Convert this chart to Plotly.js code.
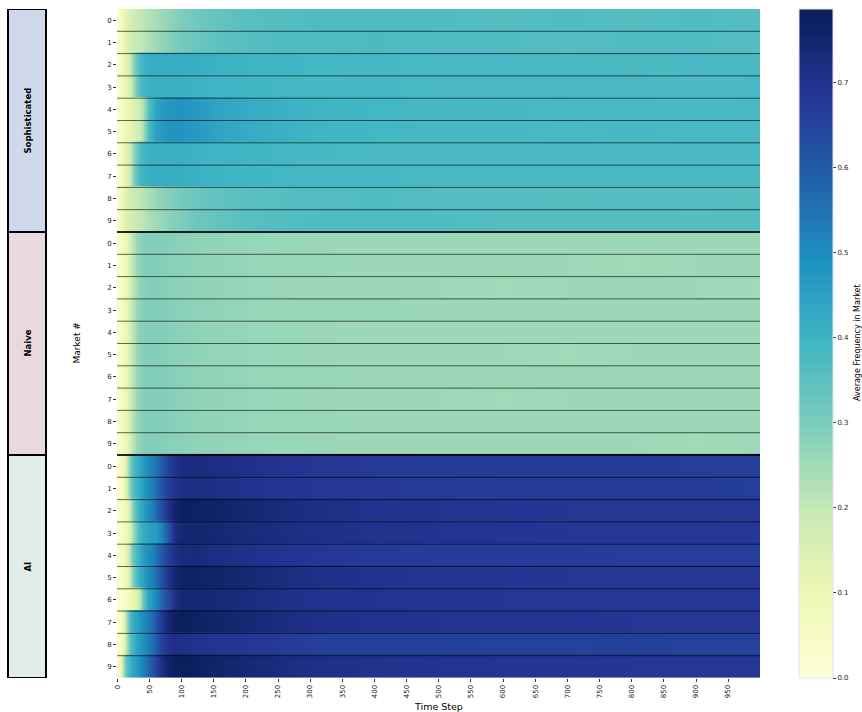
<!DOCTYPE html>
<html>
<head>
<meta charset="utf-8">
<script src="https://cdn.plot.ly/plotly-3.0.1.min.js"></script>
<style>html,body{margin:0;padding:0;background:#fff;}#chart{width:862px;height:712px;}</style>
</head>
<body>
<div id="chart"></div>
<script>
// ---- Data ----
const timeSteps = [0,5,10,15,20,25,30,35,40,45,50,55,60,70,80,90,100,120,140,160,200,250,300,400,500,600,700,800,900,999];
const groups = ["Sophisticated", "Naive", "AI"];
const marketLabels = ["0","1","2","3","4","5","6","7","8","9"];
const xTickValues = [0,50,100,150,200,250,300,350,400,450,500,550,600,650,700,750,800,850,900,950];
const colorbarTicks = [0.0,0.1,0.2,0.3,0.4,0.5,0.6,0.7];

const sophisticated = [
  [0.02,0.07,0.11,0.14,0.16,0.18,0.19,0.20,0.21,0.22,0.225,0.23,0.24,0.255,0.27,0.285,0.295,0.315,0.33,0.34,0.355,0.365,0.37,0.37,0.37,0.365,0.37,0.365,0.37,0.365],
  [0.02,0.07,0.11,0.14,0.165,0.185,0.195,0.205,0.215,0.225,0.235,0.245,0.255,0.27,0.285,0.30,0.31,0.325,0.34,0.35,0.36,0.37,0.37,0.375,0.37,0.37,0.365,0.37,0.37,0.365],
  [0.02,0.06,0.10,0.14,0.19,0.27,0.34,0.38,0.40,0.41,0.415,0.42,0.42,0.42,0.42,0.42,0.42,0.415,0.41,0.405,0.40,0.395,0.39,0.385,0.38,0.38,0.38,0.375,0.38,0.38],
  [0.02,0.06,0.10,0.13,0.17,0.24,0.32,0.37,0.39,0.40,0.41,0.41,0.41,0.41,0.41,0.41,0.41,0.405,0.40,0.40,0.395,0.39,0.385,0.385,0.38,0.38,0.38,0.38,0.375,0.38],
  [0.02,0.05,0.08,0.10,0.12,0.14,0.16,0.19,0.23,0.30,0.37,0.41,0.44,0.465,0.475,0.48,0.48,0.47,0.455,0.44,0.425,0.41,0.40,0.39,0.385,0.385,0.38,0.38,0.38,0.38],
  [0.02,0.05,0.08,0.10,0.12,0.14,0.16,0.19,0.24,0.31,0.38,0.42,0.45,0.47,0.48,0.485,0.48,0.47,0.455,0.44,0.425,0.41,0.40,0.39,0.385,0.385,0.38,0.385,0.38,0.38],
  [0.02,0.06,0.10,0.14,0.18,0.26,0.33,0.37,0.39,0.40,0.405,0.41,0.41,0.41,0.41,0.41,0.41,0.405,0.40,0.40,0.395,0.39,0.385,0.38,0.38,0.38,0.38,0.38,0.38,0.375],
  [0.02,0.06,0.10,0.14,0.19,0.28,0.35,0.39,0.40,0.41,0.415,0.42,0.42,0.42,0.42,0.415,0.415,0.41,0.405,0.40,0.395,0.39,0.385,0.385,0.38,0.38,0.38,0.38,0.38,0.38],
  [0.02,0.08,0.12,0.15,0.175,0.19,0.20,0.21,0.22,0.23,0.24,0.25,0.26,0.275,0.29,0.30,0.31,0.325,0.335,0.345,0.355,0.36,0.365,0.37,0.365,0.365,0.36,0.365,0.365,0.36],
  [0.02,0.08,0.12,0.15,0.17,0.185,0.195,0.205,0.215,0.225,0.235,0.245,0.25,0.265,0.28,0.29,0.30,0.32,0.33,0.34,0.355,0.365,0.37,0.37,0.37,0.365,0.365,0.365,0.36,0.365]
];

const naive = [
  [0.02,0.05,0.08,0.12,0.17,0.22,0.26,0.275,0.285,0.29,0.29,0.29,0.29,0.29,0.285,0.285,0.28,0.275,0.27,0.27,0.265,0.26,0.26,0.255,0.255,0.255,0.255,0.255,0.255,0.255],
  [0.02,0.05,0.08,0.12,0.17,0.22,0.26,0.275,0.285,0.29,0.29,0.29,0.29,0.285,0.285,0.28,0.28,0.275,0.27,0.27,0.265,0.26,0.26,0.255,0.255,0.255,0.255,0.25,0.255,0.255],
  [0.02,0.05,0.07,0.11,0.16,0.21,0.25,0.27,0.28,0.285,0.29,0.29,0.29,0.285,0.285,0.28,0.28,0.275,0.27,0.27,0.265,0.26,0.255,0.255,0.255,0.25,0.255,0.255,0.255,0.25],
  [0.02,0.05,0.08,0.12,0.17,0.22,0.26,0.275,0.285,0.29,0.29,0.29,0.29,0.29,0.285,0.285,0.28,0.275,0.275,0.27,0.265,0.26,0.26,0.26,0.255,0.255,0.255,0.255,0.255,0.255],
  [0.02,0.05,0.08,0.12,0.17,0.22,0.26,0.28,0.285,0.29,0.29,0.29,0.29,0.29,0.285,0.285,0.28,0.275,0.27,0.27,0.265,0.26,0.26,0.255,0.255,0.255,0.255,0.255,0.255,0.255],
  [0.02,0.05,0.08,0.12,0.17,0.22,0.26,0.275,0.285,0.29,0.29,0.29,0.29,0.285,0.285,0.28,0.28,0.275,0.27,0.265,0.265,0.26,0.26,0.255,0.255,0.255,0.25,0.255,0.255,0.255],
  [0.02,0.05,0.08,0.12,0.17,0.22,0.26,0.275,0.285,0.29,0.29,0.29,0.29,0.29,0.285,0.285,0.28,0.275,0.27,0.27,0.265,0.26,0.26,0.255,0.255,0.255,0.255,0.255,0.255,0.255],
  [0.02,0.05,0.08,0.12,0.17,0.22,0.26,0.275,0.285,0.29,0.29,0.29,0.29,0.29,0.285,0.285,0.28,0.275,0.27,0.27,0.265,0.26,0.26,0.255,0.255,0.25,0.255,0.255,0.255,0.255],
  [0.02,0.06,0.09,0.13,0.18,0.23,0.265,0.28,0.29,0.295,0.295,0.29,0.29,0.29,0.285,0.285,0.28,0.275,0.27,0.27,0.265,0.26,0.26,0.255,0.255,0.255,0.255,0.255,0.255,0.255],
  [0.02,0.05,0.08,0.12,0.17,0.22,0.26,0.275,0.285,0.29,0.29,0.29,0.29,0.285,0.285,0.28,0.28,0.275,0.27,0.27,0.265,0.26,0.26,0.255,0.255,0.255,0.255,0.255,0.25,0.255]
];

const ai = [
  [0.02,0.05,0.10,0.20,0.30,0.37,0.41,0.44,0.47,0.49,0.51,0.53,0.55,0.60,0.66,0.70,0.72,0.725,0.72,0.715,0.705,0.695,0.685,0.675,0.67,0.67,0.67,0.67,0.665,0.665],
  [0.02,0.05,0.10,0.19,0.29,0.36,0.40,0.43,0.46,0.49,0.51,0.53,0.56,0.62,0.67,0.70,0.715,0.72,0.715,0.71,0.70,0.69,0.685,0.68,0.675,0.67,0.67,0.67,0.67,0.665],
  [0.02,0.04,0.07,0.12,0.20,0.30,0.38,0.42,0.45,0.48,0.50,0.53,0.57,0.64,0.71,0.755,0.77,0.77,0.765,0.76,0.745,0.73,0.715,0.70,0.695,0.69,0.685,0.685,0.685,0.685],
  [0.02,0.04,0.06,0.10,0.16,0.25,0.34,0.39,0.42,0.44,0.45,0.46,0.47,0.52,0.62,0.72,0.745,0.75,0.745,0.74,0.73,0.72,0.71,0.70,0.695,0.69,0.685,0.685,0.685,0.68],
  [0.02,0.04,0.08,0.14,0.24,0.33,0.39,0.43,0.46,0.48,0.50,0.52,0.55,0.61,0.67,0.71,0.725,0.73,0.72,0.715,0.705,0.695,0.685,0.675,0.67,0.67,0.67,0.665,0.665,0.665],
  [0.02,0.04,0.07,0.12,0.20,0.30,0.38,0.42,0.45,0.48,0.50,0.53,0.56,0.63,0.70,0.75,0.765,0.765,0.76,0.755,0.74,0.725,0.71,0.70,0.69,0.69,0.685,0.685,0.685,0.685],
  [0.02,0.03,0.04,0.06,0.08,0.11,0.15,0.22,0.32,0.40,0.45,0.48,0.51,0.58,0.65,0.71,0.74,0.745,0.74,0.735,0.725,0.71,0.70,0.695,0.69,0.685,0.685,0.685,0.68,0.68],
  [0.02,0.06,0.14,0.27,0.37,0.42,0.45,0.48,0.50,0.52,0.54,0.57,0.61,0.69,0.75,0.77,0.775,0.77,0.765,0.755,0.74,0.725,0.71,0.70,0.695,0.69,0.69,0.685,0.685,0.685],
  [0.02,0.06,0.13,0.25,0.35,0.40,0.44,0.47,0.49,0.51,0.53,0.56,0.60,0.66,0.70,0.71,0.71,0.70,0.695,0.69,0.685,0.675,0.665,0.66,0.66,0.655,0.655,0.66,0.655,0.655],
  [0.02,0.12,0.27,0.36,0.41,0.44,0.47,0.50,0.52,0.55,0.58,0.62,0.66,0.72,0.76,0.775,0.78,0.775,0.765,0.755,0.74,0.725,0.71,0.70,0.695,0.69,0.69,0.685,0.685,0.685]
];

const groupData = [sophisticated, naive, ai];
const groupFill = ["#d0d9ec", "#ead8e0", "#e2ecea"];

// ---- Build ----
const ylgnbu = [
  [0.0, "#ffffd9"], [0.125, "#edf8b1"], [0.25, "#c7e9b4"], [0.375, "#7fcdbb"],
  [0.5, "#41b6c4"], [0.625, "#1d91c0"], [0.75, "#225ea8"], [0.875, "#253494"], [1.0, "#081d58"]
];

const FONT = "DejaVu Sans, Arial, sans-serif";
const L = 117, R = 102, T = 9, B = 34, W = 862, H = 712;
const pw = W - L - R, ph = H - T - B;
const px2x = p => (p - L) / pw;
const py2y = p => (H - B - p) / ph;
const overlap = 0.05; // tiny overlap between row strips so no white seam shows

const traces = [];
const rowIdx = [];
const rowText = [];
const shapes = [];
const annotations = [];
let start = 0;
groupData.forEach((g, gi) => {
  const end = start + g.length;
  g.forEach((row, i) => {
    const r = start + i;
    rowIdx.push(r);
    rowText.push(marketLabels[i]);
    traces.push({
      type: "heatmap", x: timeSteps, y: [r - 0.5 - overlap, r, r + 0.5 + overlap], z: [row, row],
      coloraxis: "coloraxis", zsmooth: "best", hoverinfo: "skip"
    });
  });
  shapes.push({type: "rect", xref: "paper", yref: "y", x0: px2x(8), x1: px2x(46),
    y0: start - 0.5, y1: end - 0.5, fillcolor: groupFill[gi], line: {color: "#000", width: 2}, layer: "above"});
  annotations.push({xref: "paper", yref: "y", x: px2x(27), y: (start + end - 1) / 2, text: "<b>" + groups[gi] + "</b>",
    textangle: -90, showarrow: false, font: {family: FONT, size: 8.5, color: "#000"}, xanchor: "center", yanchor: "middle"});
  for (let r = start + 1; r < end; r++) {
    shapes.push({type: "line", xref: "paper", yref: "y", x0: 0, x1: 1, y0: r - 0.5, y1: r - 0.5,
      line: {color: "rgba(0,0,0,0.6)", width: 1}});
  }
  if (gi < groupData.length - 1) {
    shapes.push({type: "line", xref: "paper", yref: "y", x0: 0, x1: 1, y0: end - 0.5, y1: end - 0.5,
      line: {color: "rgba(0,0,0,0.85)", width: 2}});
  }
  start = end;
});
const nRows = start;

annotations.push({xref: "paper", yref: "paper", x: px2x(76), y: 0.5, text: "Market #", textangle: -90,
  showarrow: false, font: {family: FONT, size: 9, color: "#000"}, xanchor: "center", yanchor: "middle"});
annotations.push({xref: "paper", yref: "paper", x: 0.5, y: py2y(706), text: "Time Step",
  showarrow: false, font: {family: FONT, size: 9.5, color: "#000"}, xanchor: "center", yanchor: "middle"});
annotations.push({xref: "paper", yref: "paper", x: px2x(857), y: py2y(343), text: "Average Frequency in Market", textangle: -90,
  showarrow: false, font: {family: FONT, size: 8, color: "#000"}, xanchor: "center", yanchor: "middle"});

const layout = {
  width: W, height: H,
  margin: {l: L, r: R, t: T, b: B, pad: 0},
  paper_bgcolor: "#fff", plot_bgcolor: "#fff",
  font: {family: FONT, color: "#222"},
  coloraxis: {
    cmin: 0, cmax: 0.787, colorscale: ylgnbu,
    colorbar: {
      x: px2x(799), xanchor: "left", xref: "paper",
      y: 0.5, yanchor: "middle", len: 1.0, lenmode: "fraction",
      thickness: 34, thicknessmode: "pixels", xpad: 0, ypad: 0,
      outlinewidth: 1, outlinecolor: "#dde3ee",
      tickvals: colorbarTicks, ticktext: colorbarTicks.map(v => v.toFixed(1)),
      ticks: "outside", ticklen: 3, tickwidth: 1, tickcolor: "#333",
      tickfont: {family: FONT, size: 7, color: "#222"}
    }
  },
  xaxis: {
    range: [-0.5, 999.5], tickvals: xTickValues, ticktext: xTickValues.map(String),
    tickangle: -90, ticks: "outside", ticklen: 3, tickcolor: "#333",
    tickfont: {family: FONT, size: 7, color: "#222"},
    showgrid: false, zeroline: false, showline: false, automargin: false
  },
  yaxis: {
    range: [nRows - 0.5, -0.5], tickvals: rowIdx, ticktext: rowText,
    ticks: "outside", ticklen: 3, tickcolor: "#333",
    tickfont: {family: FONT, size: 7, color: "#222"},
    showgrid: false, zeroline: false, showline: false, automargin: false
  },
  shapes: shapes,
  annotations: annotations,
  showlegend: false
};

Plotly.newPlot("chart", traces, layout, {displayModeBar: false, staticPlot: true});
</script>
</body>
</html>
